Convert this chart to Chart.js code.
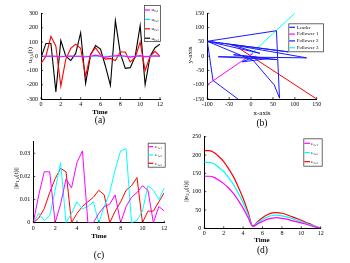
<!DOCTYPE html>
<html><head><meta charset="utf-8">
<script src="https://cdn.jsdelivr.net/npm/chart.js@4.4.0/dist/chart.umd.min.js"></script>
<style>
html,body{margin:0;padding:0;background:#fff;width:350px;height:263px;overflow:hidden;font-family:"Liberation Serif",serif;}
canvas{position:absolute;}
.t{position:absolute;white-space:nowrap;transform:translate(-50%,-50%);color:#000;line-height:1;font-size:7px;}
.r{transform:translate(-50%,-50%) rotate(-90deg);}
.b{font-weight:bold;}
.cap{font-size:9.5px;}
sub{font-size:70%;vertical-align:-1px;line-height:0;}
</style></head><body>
<canvas id="ca" width="175" height="130" style="left:0;top:0"></canvas>
<canvas id="cb" width="175" height="130" style="left:175px;top:0"></canvas>
<canvas id="cc" width="175" height="133" style="left:0;top:130px"></canvas>
<canvas id="cd" width="175" height="133" style="left:175px;top:130px"></canvas>

<div class="t r" style="left:29.5px;top:55px">u<sub>0,k</sub>(t)</div>
<div class="t b" style="left:100px;top:112px">Time</div>
<div class="t cap" style="left:100px;top:121px">(a)</div>

<div class="t r" style="left:189.5px;top:55px">y-axis</div>
<div class="t" style="left:262px;top:113px">x-axis</div>
<div class="t cap" style="left:262px;top:124px">(b)</div>

<div class="t r" style="left:15.5px;top:178px">||e<sub>1,k</sub>(t)||</div>
<div class="t b" style="left:99px;top:236px">Time</div>
<div class="t cap" style="left:99px;top:256px">(c)</div>

<div class="t r" style="left:185.5px;top:191px">||e<sub>2,k</sub>(t)||</div>
<div class="t b" style="left:262px;top:240px">Time</div>
<div class="t cap" style="left:262.5px;top:251px">(d)</div>

<script>
// ---------- data ----------
const time = [0,0.5,1,1.5,2,2.5,3,3.5,4,4.5,5,5.5,6,6.5,7,7.5,8,8.5,9,9.5,10,10.5,11,11.5,12];
const timeTicks = [0,2,4,6,8,10,12];

// (a)
const u01 = [0,0,2,0,-3,0,2,0,0,-5,0,8,0,-8,0,3,5,0,-6,0,4,-4,0,3,0];
const u02 = [0,0,0,0,0,0,0,0,0,0,0,0,0,0,0,0,0,0,0,0,0,0,0,0,0];
const u03 = [-50,0,140,70,-210,-20,55,85,55,-140,15,60,10,-20,-15,-30,30,30,-40,-10,100,-100,0,35,0];
const u04 = [-10,90,90,-250,110,0,-30,20,165,-190,10,75,50,-70,-205,250,20,-85,-80,0,215,-200,0,60,85];
const ticksA = [-300,-200,-100,0,100,200,300];

// (b)
const leaderX = [-30,-87,-100,58,65,53,5,-100,85,-100,20,-48,127,-75,60,-40,40,-20,10];
const leaderY = [-150,-85,52,89,-147,-101,-15,52,15,52,10,41,-6,-2,-12,5,-8,-20,0];
const follower1X = [-100,5];
const follower1Y = [-100,10];
const follower2X = [-30,150];
const follower2Y = [30,-150];
const follower3X = [-20,100];
const follower3Y = [-20,150];
const ticksBX = [-100,-50,0,50,100,150];
const ticksBY = [-150,-100,-50,0,50,100,150];

// (c)
const e11 = [0,0.012,0.022,0.022,0,0.008,0.019,0.015,0.026,0.031,0,0,0.004,0.007,0.008,0.012,0,0.007,0.011,0.013,0.016,0.014,0,0.007,0.005];
const e12 = [0,0.004,0.001,0.003,0.014,0.026,0,0.004,0.009,0.006,0.007,0.009,0,0.007,0.013,0.023,0.031,0.032,0,0.001,0.005,0.016,0.014,0.010,0.015];
const e13 = [0,0.002,0.006,0.013,0.019,0.0235,0.022,0,0.004,0.007,0.009,0.011,0.014,0.012,0,0.005,0.009,0.014,0.016,0.0195,0,0.005,0.005,0.009,0.013];
const ticksC = [0,0.01,0.02,0.03];

// (d)
const e21 = [142,142,139,131,122,110,95,76,55,30,5,12,19,25,28,29,27,25,21,18,15,11,7,3,0];
const e22 = [180,180,176,166,155,139,120,96,70,38,5,15,24,31,35,36,34,31,27,22,18,13,9,4,1];
const e23 = [212,212,207,196,182,163,141,113,82,45,6,18,29,37,42,43,41,37,32,27,22,16,11,5,1];
const ticksD = [0,50,100,150,200,250];

// ---------- helpers ----------
const FONT = 'Liberation Serif';
function pts(xs, ys){ return xs.map((x,i)=>({x:x, y:ys[i]})); }

function scale(min, max, ticks, fitFn, pad){
  return {
    type:'linear', min:min, max:max,
    afterBuildTicks: s => { s.ticks = ticks.map(v=>({value:v})); },
    afterFit: fitFn,
    grid:{display:false, drawTicks:false},
    border:{display:true, color:'#000', width:1},
    ticks:{padding:pad, color:'#000', font:{family:FONT, size:6}, autoSkip:false, maxRotation:0,
           callback: v => String(v)}
  };
}

const boxLegend = {
  id:'boxLegend',
  afterDraw(chart, args, o){
    const ctx = chart.ctx;
    ctx.save();
    ctx.fillStyle = '#fff';
    ctx.fillRect(o.x, o.y, o.w, o.h);
    ctx.strokeStyle = '#444';
    ctx.lineWidth = 0.8;
    ctx.strokeRect(o.x + 0.5, o.y + 0.5, o.w - 1, o.h - 1);
    const items = chart.data.datasets.filter(d => d.label);
    items.forEach((d, i) => {
      const yy = o.first + i * o.rowH;
      ctx.strokeStyle = d.legendColor || d.borderColor;
      ctx.lineWidth = 1.2;
      ctx.beginPath(); ctx.moveTo(o.l0, yy); ctx.lineTo(o.l1, yy); ctx.stroke();
      ctx.fillStyle = '#000';
      ctx.font = (o.size || 5) + 'px "' + FONT + '"';
      ctx.textBaseline = 'middle';
      ctx.textAlign = 'left';
      ctx.fillText(d.label, o.tx, yy);
    });
    ctx.restore();
  }
};

const inTicks = {
  id:'inTicks',
  afterDatasetsDraw(chart){
    const ctx = chart.ctx, a = chart.chartArea, xs = chart.scales.x, ys = chart.scales.y;
    ctx.save(); ctx.strokeStyle = '#000'; ctx.lineWidth = 0.7;
    xs.ticks.forEach(t => { const p = xs.getPixelForValue(t.value); ctx.beginPath(); ctx.moveTo(p, a.bottom); ctx.lineTo(p, a.bottom - 2); ctx.stroke(); });
    ys.ticks.forEach(t => { const p = ys.getPixelForValue(t.value); ctx.beginPath(); ctx.moveTo(a.left, p); ctx.lineTo(a.left + 2, p); ctx.stroke(); });
    ctx.restore();
  }
};

function line(label, xs, ys, color, w, extra){
  return Object.assign({label:label, data:pts(xs, ys), borderColor:color, backgroundColor:color,
    borderWidth:w, pointRadius:0, fill:false, showLine:true, tension:0}, extra || {});
}

function make(id, datasets, sx, sy, padTop, padRight, legend){
  return new Chart(document.getElementById(id), {
    type:'scatter',
    data:{datasets:datasets},
    options:{
      responsive:false, animation:false, devicePixelRatio:1,
      layout:{padding:{top:padTop, right:padRight, left:0, bottom:0}},
      plugins:{legend:{display:false}, tooltip:{enabled:false}, boxLegend:legend},
      scales:{x:sx, y:sy}
    },
    plugins:[inTicks, boxLegend]
  });
}

// (a)
make('ca', [
  line('u₀,₁', time, u01, '#ff00ff', 1.1),
  line('u₀,₂', time, u02, '#00e5ff', 1.1),
  line('u₀,₃', time, u03, '#ff0000', 1.1),
  line('u₀,₄', time, u04, '#000000', 1.1)
], scale(0, 12, timeTicks, s => { s.height = 31; }, 2),
   scale(-300, 300, ticksA, s => { s.width = 41; }, 3),
   13.5, 15,
   {x:144, y:5, w:17, h:37, first:10, rowH:9.4, l0:145, l1:150, tx:151.5, size:5});

// (b)
make('cb', [
  line('Leader', leaderX, leaderY, '#1a1aff', 1),
  line('Follower 1', follower1X, follower1Y, '#ff00ff', 1),
  line('', follower2X, follower2Y, '#ff0000', 1),
  line('Follower 2', [], [], '#1a1aff', 1),
  line('Follower 3', follower3X, follower3Y, '#00ffff', 1)
], scale(-100, 150, ticksBX, s => { s.height = 31; }, 2),
   scale(-150, 150, ticksBY, s => { s.width = 32.3; }, 3),
   13.3, 33.3,
   {x:113.3, y:23.3, w:35.7, h:29, first:27.3, rowH:6.8, l0:114.3, l1:120, tx:121.7, size:5});

// (c)
make('cc', [
  line('e₁,₁', time, e11, '#ff00ff', 1),
  line('e₁,₂', time, e12, '#00ffff', 1),
  line('e₁,₃', time, e13, '#ff0000', 1)
], scale(0, 12, timeTicks, s => { s.height = 40.3; }, 2),
   scale(0, 0.035, ticksC, s => { s.width = 33.3; }, 3),
   11.7, 10.7,
   {x:147.7, y:12.7, w:18, h:25, first:16.7, rowH:8.3, l0:148.3, l1:153.3, tx:155, size:5});

// (d)
make('cd', [
  line('e₂,₁', time, e21, '#ff00ff', 1.2, {cubicInterpolationMode:'monotone'}),
  line('e₂,₂', time, e22, '#00ffff', 1.2, {cubicInterpolationMode:'monotone'}),
  line('e₂,₃', time, e23, '#ff0000', 1.2, {cubicInterpolationMode:'monotone'})
], scale(0, 12, timeTicks, s => { s.height = 34.7; }, 2),
   scale(0, 250, ticksD, s => { s.width = 29.3; }, 3),
   6.7, 29.3,
   {x:128.3, y:8.3, w:19.4, h:28.4, first:13.3, rowH:9.2, l0:129.3, l1:135, tx:136, size:5});
</script>
</body></html>
